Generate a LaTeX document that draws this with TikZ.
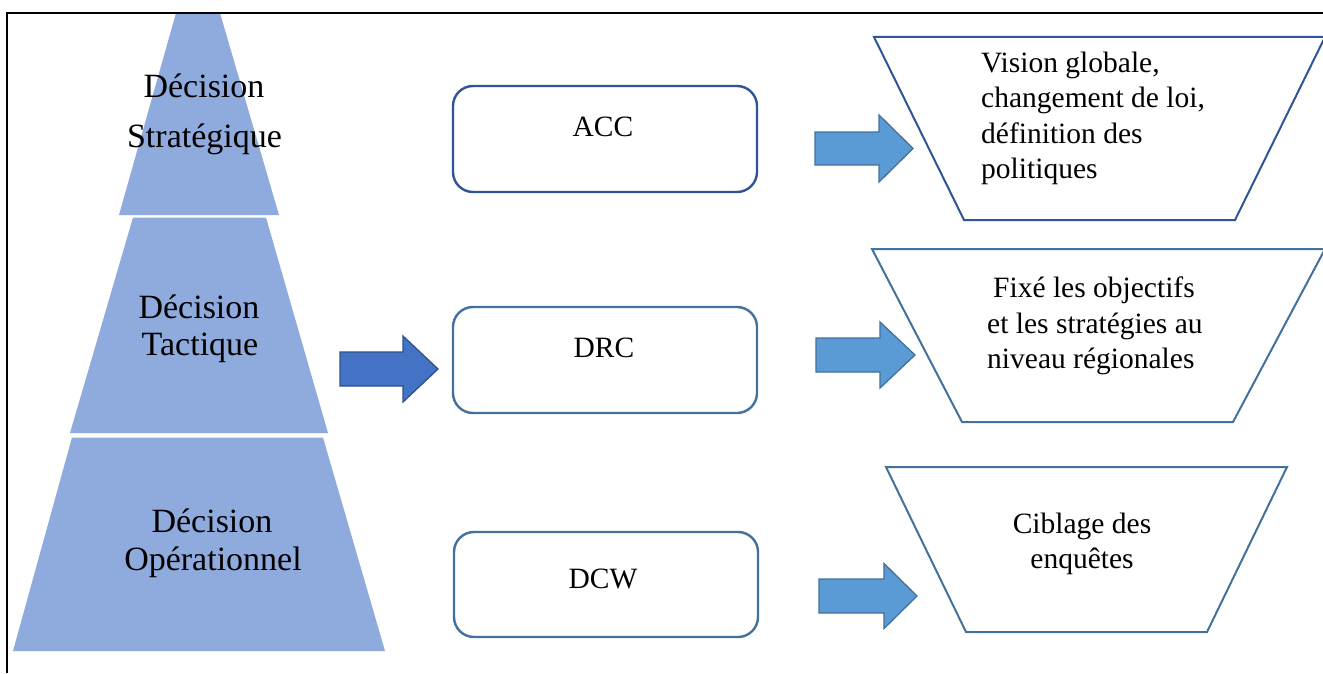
\documentclass[tikz,border=0pt]{standalone}
\usepackage{fontspec}
\setmainfont{Liberation Serif}
\usetikzlibrary{positioning}

\definecolor{pyrfill}{HTML}{8FAADC}
\definecolor{darkfill}{HTML}{4472C4}
\definecolor{darkline}{HTML}{2F528F}
\definecolor{lightfill}{HTML}{5B9BD5}
\definecolor{slateline}{HTML}{41719C}
\definecolor{deepline}{HTML}{2F5597}

% block arrow: shaft start, shaft end, tip, centre y, shaft half height, head half height
\newcommand{\blockarrowshape}[7][]{%
  \filldraw[#1] (#2,#5-#6) -- (#3,#5-#6) -- (#3,#5-#7) -- (#4,#5)
    -- (#3,#5+#7) -- (#3,#5+#6) -- (#2,#5+#6) -- cycle;}

\begin{document}
\begin{tikzpicture}[x=1bp,y=-1bp,
  pyrtext/.style={font=\fontsize{34bp}{38bp}\selectfont, inner sep=0pt, anchor=base},
  bodytext/.style={font=\fontsize{29.5bp}{35bp}\selectfont, inner sep=0pt},
  levelbox/.style={draw, line width=2.4bp, rounded corners=20bp, minimum width=304bp, minimum height=106bp, inner sep=0pt},
  trap/.style={draw, line width=2bp, fill=white, line join=miter},
  lightarrow/.style={fill=lightfill, draw=slateline, line width=1.3bp},
  darkarrow/.style={fill=darkfill, draw=darkline, line width=1.3bp}]

\useasboundingbox (0,0) rectangle (1323,673);
\fill[white] (0,0) rectangle (1323,673);

% pyramid of decision levels
\fill[pyrfill] (176,13) -- (220,13) -- (279,215) -- (119,215) -- cycle;
\fill[pyrfill] (133,217.5) -- (266,217.5) -- (328,433) -- (70,433) -- cycle;
\fill[pyrfill] (72,437.5) -- (323,437.5) -- (385,651) -- (13,651) -- cycle;

\node[pyrtext] (strat1) at (204,98) {Décision};
\node[pyrtext] (strat2) at (204.5,147) {Stratégique};
\node[pyrtext] (tact1) at (199,318) {Décision};
\node[pyrtext] (tact2) at (200,355) {Tactique};
\node[pyrtext] (oper1) at (212,532) {Décision};
\node[pyrtext] (oper2) at (213,570) {Opérationnel};

% frame
\draw[line width=2.6bp] (7,673) -- (7,13) -- (1323,13);

% organisational levels
\node[levelbox, draw=deepline] (acc) at (605,139) {};
\node[levelbox, draw=slateline] (drc) at (605,360) {};
\node[levelbox, draw=slateline, minimum height=105bp] (dcw) at (606,584.5) {};
\node[bodytext, anchor=base] (acct) at (603,136) {ACC};
\node[bodytext, anchor=base] (drct) at (604,357) {DRC};
\node[bodytext, anchor=base] (dcwt) at (603,588) {DCW};

% arrows
\blockarrowshape[darkarrow]{340}{403}{438}{369}{17}{33}
\blockarrowshape[lightarrow]{815}{879}{913}{148.5}{16.5}{33.5}
\blockarrowshape[lightarrow]{816}{880}{915}{355}{17}{33}
\blockarrowshape[lightarrow]{819}{884}{917}{596}{17}{32.5}

% decision descriptions
\draw[trap, draw=deepline] (874,37) -- (1325,37) -- (1235,220) -- (964,220) -- cycle;
\draw[trap, draw=slateline] (872,249) -- (1325,249) -- (1233,422) -- (962,422) -- cycle;
\draw[trap, draw=slateline] (886,467) -- (1287,467) -- (1207,632) -- (966,632) -- cycle;

\node[bodytext, anchor=base west] (v1) at (981,73) {Vision globale,};
\node[bodytext, anchor=base west] (v2) at (981,108) {changement de loi,};
\node[bodytext, anchor=base west] (v3) at (981,143) {définition des};
\node[bodytext, anchor=base west] (v4) at (981,178) {politiques};

\node[bodytext, anchor=base west] (f1) at (993,297) {Fixé les objectifs};
\node[bodytext, anchor=base west] (f2) at (987,333) {et les stratégies au};
\node[bodytext, anchor=base west] (f3) at (987,368) {niveau régionales};

\node[bodytext, anchor=base] (c1) at (1082,533) {Ciblage des};
\node[bodytext, anchor=base] (c2) at (1082,568) {enquêtes};

\end{tikzpicture}
\end{document}
